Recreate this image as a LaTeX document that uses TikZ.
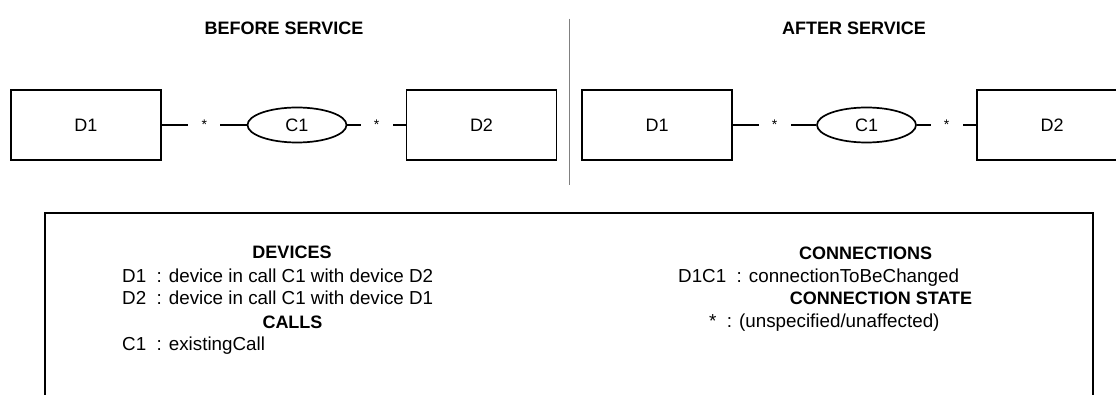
\documentclass[tikz,border=0pt]{standalone}
\usepackage{fontspec}
\setmainfont{Liberation Sans}
\usetikzlibrary{positioning,shapes.geometric}

\begin{document}
\begin{tikzpicture}[x=1pt,y=-1pt,font=\fontsize{18}{21}\selectfont,
  device/.style={draw,line width=1.7pt,minimum width=150pt,minimum height=70pt,inner sep=0pt},
  call/.style={draw,ellipse,line width=1.7pt,minimum width=99pt,minimum height=35pt,inner sep=0pt},
  link/.style={line width=1.7pt},
  cstate/.style={fill=white,minimum width=32pt,inner sep=0pt,font=\fontsize{14}{14}\selectfont},
  heading/.style={anchor=base,inner sep=0pt,font=\fontsize{18}{21}\selectfont\bfseries},
  entry/.style={anchor=base west,inner sep=0pt,font=\fontsize{18.8}{21}\selectfont}]
  \useasboundingbox (0,0) rectangle (1116,395);

  % before service
  \node[heading] (before) at (284,34.5) {BEFORE SERVICE};
  \node[device] (d1b) at (86,125) {D1};
  \node[call] (c1b) at (297,125) {C1};
  \node[device] (d2b) at (481.5,125) {D2};
  \draw[link] (d1b) -- node[cstate]{*} (c1b);
  \draw[link] (c1b) -- node[cstate]{*} (d2b);

  \draw[gray,line width=1pt] (569,18.6) -- (569,185);

  % after service
  \node[heading] (after) at (854,34.5) {AFTER SERVICE};
  \node[device] (d1a) at (657,125) {D1};
  \node[call] (c1a) at (866.5,125) {C1};
  \node[device] (d2a) at (1052,125) {D2};
  \draw[link] (d1a) -- node[cstate]{*} (c1a);
  \draw[link] (c1a) -- node[cstate]{*} (d2a);

  % legend
  \draw[line width=1.7pt] (45,400) |- (1093,212.7) -- (1093,400);
  \node[heading] (devices) at (292,258.5) {DEVICES};
  \node[entry] (devone) at (122,282.5) {D1~~: device in call C1 with device D2};
  \node[entry] (devtwo) at (122,305) {D2~~: device in call C1 with device D1};
  \node[heading] (calls) at (292.5,328.5) {CALLS};
  \node[entry] (callone) at (122,350.5) {C1~~: existingCall};

  \node[heading] (conns) at (865.5,259.5) {CONNECTIONS};
  \node[entry] (connone) at (678,282.5) {D1C1~~: connectionToBeChanged};
  \node[heading] (cstates) at (881,304.5) {CONNECTION STATE};
  \node[entry] (stateone) at (709,327.5) {*~~: (unspecified/unaffected)};
\end{tikzpicture}
\end{document}
